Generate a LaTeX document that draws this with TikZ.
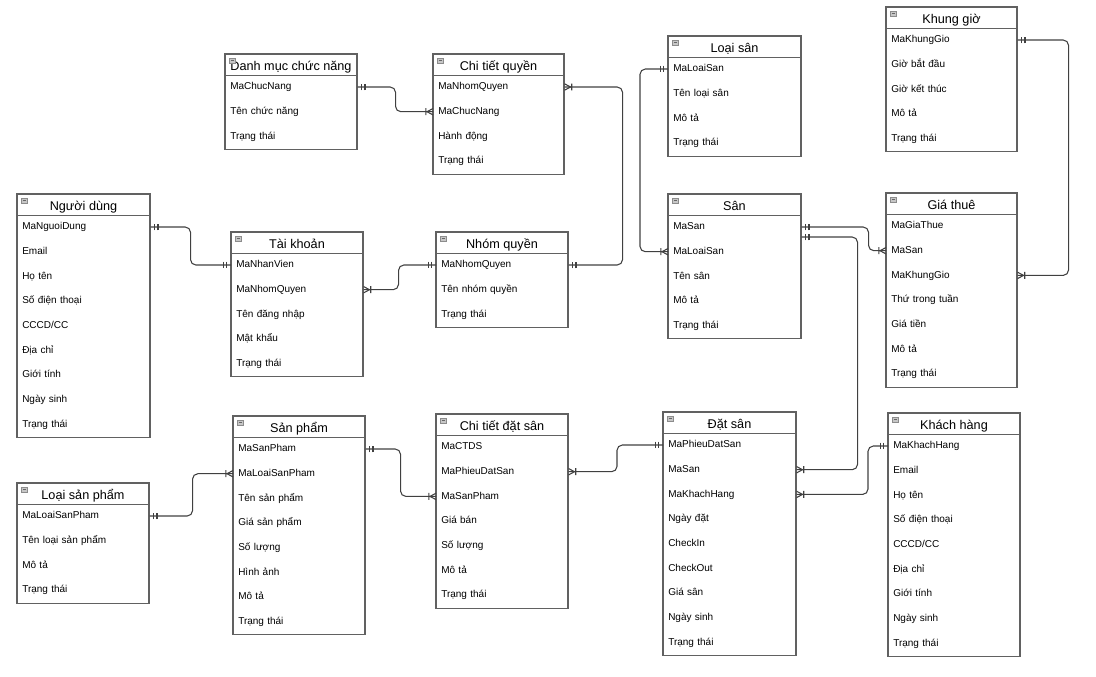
\documentclass[tikz,border=0pt]{standalone}
\usepackage{fontspec}
\setmainfont{Liberation Sans}
\usetikzlibrary{calc}

% punte ER: una sola (||) e molte (zampa di gallina)
\pgfdeclarearrow{
  name = Uno,
  setup code = {
    \pgfarrowssettipend{0pt}
    \pgfarrowssetlineend{0pt}
    \pgfarrowssetbackend{-6pt}
    \pgfarrowsupperhullpoint{0pt}{2.6pt}
    \pgfarrowsupperhullpoint{-6pt}{2.6pt}
  },
  drawing code = {
    \pgfpathmoveto{\pgfqpoint{-3.2pt}{2.6pt}}
    \pgfpathlineto{\pgfqpoint{-3.2pt}{-2.6pt}}
    \pgfpathmoveto{\pgfqpoint{-5.6pt}{2.6pt}}
    \pgfpathlineto{\pgfqpoint{-5.6pt}{-2.6pt}}
    \pgfusepathqstroke
  }
}
\pgfdeclarearrow{
  name = Molti,
  setup code = {
    \pgfarrowssettipend{0pt}
    \pgfarrowssetlineend{0pt}
    \pgfarrowssetbackend{-6pt}
    \pgfarrowsupperhullpoint{0pt}{2.6pt}
    \pgfarrowsupperhullpoint{-6pt}{2.6pt}
  },
  drawing code = {
    \pgfpathmoveto{\pgfqpoint{0pt}{2.4pt}}
    \pgfpathlineto{\pgfqpoint{-4.5pt}{0pt}}
    \pgfpathlineto{\pgfqpoint{0pt}{-2.4pt}}
    \pgfpathmoveto{\pgfqpoint{-5.4pt}{2.6pt}}
    \pgfpathlineto{\pgfqpoint{-5.4pt}{-2.6pt}}
    \pgfusepathqstroke
  }
}

% tabella: nome, x, y, larghezza, titolo, attributi
\newcommand{\entita}[6]{%
  \pgfmathsetlengthmacro{\largtxt}{(#4-10)*0.75pt}%
  \node[testata] (#1) at ({#2+#4/2},{#3+16.5}) {#5};
  \draw[bordo] (#2,#3+21.5) -- (#2+#4,#3+21.5);
  \draw[icona] (#2+4,#3+4) rectangle (#2+10,#3+9);
  \draw[black!60] (#2+5.5,#3+6.5) -- (#2+8.5,#3+6.5);
  \foreach \r [count=\k] in {#6}{
    \node[riga, text width=\largtxt] (#1-\k) at ({#2},{#3+33+(\k-1)*24.7}) {\r};
    \xdef\nrighe{\k}
  }
  \draw[bordo] (#2,#3) rectangle ({#2+#4},{#3+46+(\nrighe-1)*24.7});
}

\begin{document}
\begin{tikzpicture}[x=0.75pt, y=-0.75pt,
  bordo/.style={draw=black!62, line width=0.8pt},
  testata/.style={anchor=base, inner sep=0pt, font=\fontsize{9.5}{11}\selectfont},
  icona/.style={draw=black!45, fill=black!22, line width=0.4pt},
  riga/.style={anchor=west, inner xsep=3.75pt, inner ysep=0pt, align=left,
    text height=5.6pt, text depth=1.6pt, font=\fontsize{7.5}{9}\selectfont},
  rel/.style={draw=black!75, line width=0.8pt, rounded corners=4pt}]
\useasboundingbox (0,0) rectangle (1096,676);

% tabelle
\entita{dm}{225}{54}{132}{Danh mục chức năng}{MaChucNang,Tên chức năng,Trạng thái}
\entita{ctq}{433}{54}{131}{Chi tiết quyền}{MaNhomQuyen,MaChucNang,Hành động,Trạng thái}
\entita{nd}{17}{194}{133}{Người dùng}{MaNguoiDung,Email,Họ tên,Số điện thoại,CCCD/CC,Địa chỉ,Giới tính,Ngày sinh,Trạng thái}
\entita{tk}{231}{232}{132}{Tài khoản}{MaNhanVien,MaNhomQuyen,Tên đăng nhập,Mật khẩu,Trạng thái}
\entita{nq}{436}{232}{132}{Nhóm quyền}{MaNhomQuyen,Tên nhóm quyền,Trạng thái}
\entita{ls}{668}{36}{133}{Loại sân}{MaLoaiSan,Tên loại sân,Mô tả,Trạng thái}
\entita{kg}{886}{7}{131}{Khung giờ}{MaKhungGio,Giờ bắt đầu,Giờ kết thúc,Mô tả,Trạng thái}
\entita{san}{668}{194}{133}{Sân}{MaSan,MaLoaiSan,Tên sân,Mô tả,Trạng thái}
\entita{gt}{886}{193}{131}{Giá thuê}{MaGiaThue,MaSan,MaKhungGio,Thứ trong tuần,Giá tiền,Mô tả,Trạng thái}
\entita{lsp}{17}{483}{132}{Loại sản phẩm}{MaLoaiSanPham,Tên loại sản phẩm,Mô tả,Trạng thái}
\entita{sp}{233}{416}{132}{Sản phẩm}{MaSanPham,MaLoaiSanPham,Tên sản phẩm,Giá sản phẩm,Số lượng,Hình ảnh,Mô tả,Trạng thái}
\entita{ctds}{436}{414}{132}{Chi tiết đặt sân}{MaCTDS,MaPhieuDatSan,MaSanPham,Giá bán,Số lượng,Mô tả,Trạng thái}
\entita{ds}{663}{412}{133}{Đặt sân}{MaPhieuDatSan,MaSan,MaKhachHang,Ngày đặt,CheckIn,CheckOut,Giá sân,Ngày sinh,Trạng thái}
\entita{kh}{888}{413}{132}{Khách hàng}{MaKhachHang,Email,Họ tên,Số điện thoại,CCCD/CC,Địa chỉ,Giới tính,Ngày sinh,Trạng thái}

% relazioni
\draw[rel, arrows={Uno-Molti}] (dm-1.east) -- ++(38,0) |- (ctq-2.west);
\draw[rel, arrows={Molti-Uno}] (ctq-1.east) -- ++(58,0) |- (nq-1.east);
\draw[rel, arrows={Uno-Uno}] (nd-1.east) -- ++(40,0) |- (tk-1.west);
\draw[rel, arrows={Molti-Uno}] (tk-2.east) -- ++(35,0) |- (nq-1.west);
\draw[rel, arrows={Uno-Molti}] (ls-1.west) -- ++(-28,0) |- (san-2.west);
\draw[rel, arrows={Uno-Molti}] (kg-1.east) -- ++(51,0) |- (gt-3.east);
\draw[rel, arrows={Uno-Molti}] (san-1.east) -- ++(67,0) |- (gt-2.west);
\draw[rel, arrows={Uno-Molti}] ($(san-1.east)+(0,10)$) -- ++(56,0) |- (ds-2.east);
\draw[rel, arrows={Uno-Molti}] (kh-1.west) -- ++(-20,0) |- (ds-3.east);
\draw[rel, arrows={Uno-Molti}] (ds-1.west) -- ++(-46,0) |- (ctds-2.east);
\draw[rel, arrows={Uno-Molti}] (sp-1.east) -- ++(35,0) |- (ctds-3.west);
\draw[rel, arrows={Uno-Molti}] (lsp-1.east) -- ++(43,0) |- (sp-2.west);
\end{tikzpicture}
\end{document}
